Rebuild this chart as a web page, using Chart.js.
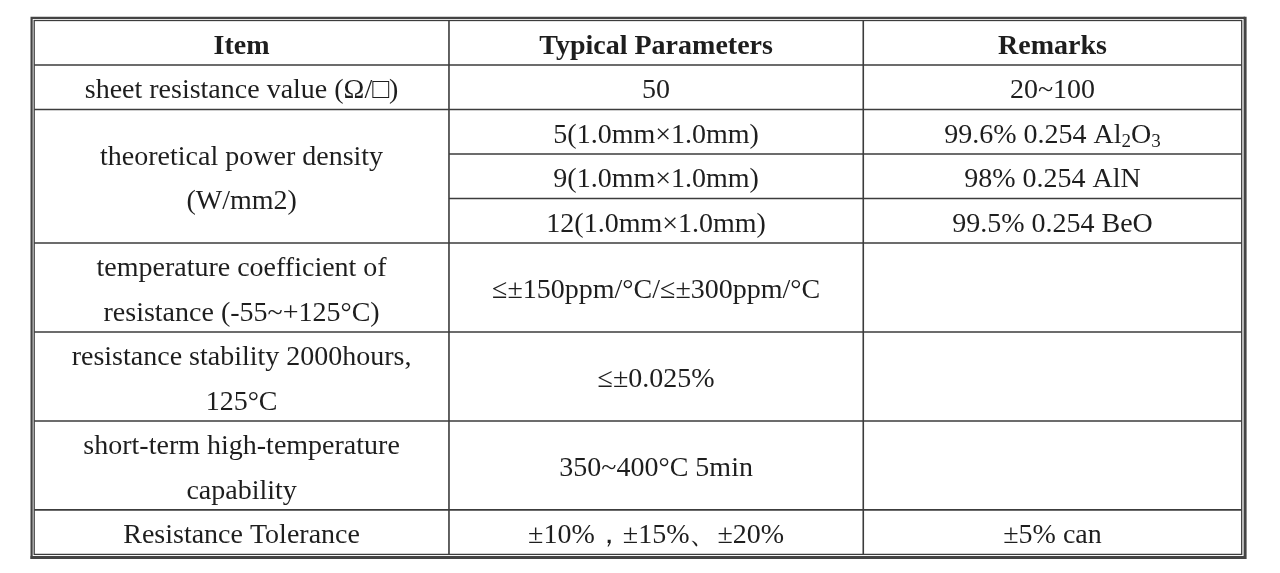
<!DOCTYPE html>
<html><head><meta charset="utf-8">
<script src="https://cdn.jsdelivr.net/npm/chart.js@4.4.1/dist/chart.umd.min.js"></script>
<style>html,body{margin:0;padding:0;background:#fff;}#wrap{position:relative;width:1280px;height:573px;background:#fff;}</style>
</head><body><div id="wrap"><canvas id="c"></canvas></div>
<script>
// ---- table content ----
const headers = ['Item', 'Typical Parameters', 'Remarks'];
const items = [
  'sheet resistance value (Ω/□)',
  'theoretical power density\n(W/mm2)',
  'temperature coefficient of\nresistance (-55~+125°C)',
  'resistance stability 2000hours,\n125°C',
  'short-term high-temperature\ncapability',
  'Resistance Tolerance'
];
const itemSpans = [1, 3, 2, 2, 2, 1];
const params = [
  '50',
  '5(1.0mm×1.0mm)',
  '9(1.0mm×1.0mm)',
  '12(1.0mm×1.0mm)',
  '≤±150ppm/°C/≤±300ppm/°C',
  '≤±0.025%',
  '350~400°C 5min',
  '±10%，±15%、±20%'
];
const remarks = [
  '20~100',
  '99.6% 0.254 Al₂O₃',
  '98% 0.254 AlN',
  '99.5% 0.254 BeO',
  '',
  '',
  '',
  '±5% can'
];
const paramSpans = [1, 1, 1, 1, 2, 2, 2, 1];

// ---- layout / style ----
const FONT = '"Liberation Serif","Times New Roman",serif';
const FONT_SIZE = 28;
const colEdges = [0, 34.35, 68.66, 100];
const totalUnits = 1 + itemSpans.reduce((a, b) => a + b, 0);
const TEXT_COLOR = '#1e1e1e';
const LINE_COLOR = '#3c3c3c';

const SUBS = '₀₁₂₃₄₅₆₇₈₉';
function segments(str) {
  const segs = [];
  for (const ch of str) {
    const sub = SUBS.indexOf(ch) >= 0;
    const c = sub ? String(SUBS.indexOf(ch)) : ch;
    if (segs.length && segs[segs.length - 1].sub === sub) segs[segs.length - 1].t += c;
    else segs.push({ t: c, sub });
  }
  return segs;
}
function drawRich(ctx, str, cx, baseY, bold) {
  const segs = segments(str);
  const w = (s) => { ctx.font = (bold ? 'bold ' : '') + (s.sub ? FONT_SIZE * 0.68 : FONT_SIZE) + 'px ' + FONT; return ctx.measureText(s.t).width; };
  let total = 0;
  segs.forEach(s => total += w(s));
  let xx = cx - total / 2;
  segs.forEach(s => {
    const ww = w(s);
    ctx.fillText(s.t, xx, baseY + (s.sub ? FONT_SIZE * 0.14 : 0));
    xx += ww;
  });
}

const tablePlugin = {
  id: 'tableDraw',
  afterDraw(chart) {
    const { ctx, scales: { x, y } } = chart;
    const X = v => x.getPixelForValue(v);
    const Y = v => y.getPixelForValue(v);
    const unitH = Math.abs(Y(1) - Y(0));
    ctx.save();
    // outer double border
    const L = X(0), R = X(100), T = Y(0), B = Y(totalUnits);
    ctx.strokeStyle = '#444';
    ctx.lineWidth = 2.2;
    ctx.beginPath();
    ctx.moveTo(L - 2.6, T - 2.7); ctx.lineTo(R + 3.4, T - 2.7);
    ctx.moveTo(L - 2.6, T - 3.8); ctx.lineTo(L - 2.6, B + 4.6);
    ctx.stroke();
    ctx.lineWidth = 3;
    ctx.beginPath();
    ctx.moveTo(R + 3.4, T - 3.8); ctx.lineTo(R + 3.4, B + 4.6);
    ctx.moveTo(L - 3.7, B + 3.2); ctx.lineTo(R + 4.9, B + 3.2);
    ctx.stroke();
    ctx.lineWidth = 1.3;
    ctx.strokeStyle = LINE_COLOR;
    ctx.strokeRect(L, T, R - L, B - T);

    // inner grid lines
    ctx.lineWidth = 1.6;
    ctx.beginPath();
    [1, 2].forEach(i => { ctx.moveTo(X(colEdges[i]), T); ctx.lineTo(X(colEdges[i]), B); });
    ctx.moveTo(L, Y(1)); ctx.lineTo(R, Y(1));
    let u = 1;
    itemSpans.forEach((s, i) => {
      u += s;
      if (i < itemSpans.length - 1) { ctx.moveTo(L, Y(u)); ctx.lineTo(X(colEdges[1]), Y(u)); }
    });
    u = 1;
    paramSpans.forEach((s, i) => {
      u += s;
      if (i < paramSpans.length - 1) { ctx.moveTo(X(colEdges[1]), Y(u)); ctx.lineTo(R, Y(u)); }
    });
    ctx.stroke();

    // text
    ctx.fillStyle = TEXT_COLOR;
    ctx.textAlign = 'left';
    ctx.textBaseline = 'alphabetic';
    const cellText = (str, col, u0, span, bold) => {
      if (!str) return;
      const lines = str.split('\n');
      const cx = (X(colEdges[col]) + X(colEdges[col + 1])) / 2;
      const cy = (Y(u0) + Y(u0 + span)) / 2;
      lines.forEach((ln, k) => {
        const ly = cy + (k - (lines.length - 1) / 2) * unitH;
        drawRich(ctx, ln, cx, ly + FONT_SIZE * 0.39, bold);
      });
    };
    headers.forEach((h, c) => cellText(h, c, 0, 1, true));
    u = 1;
    items.forEach((t, i) => { cellText(t, 0, u, itemSpans[i], false); u += itemSpans[i]; });
    u = 1;
    params.forEach((t, i) => {
      cellText(t, 1, u, paramSpans[i], false);
      cellText(remarks[i], 2, u, paramSpans[i], false);
      u += paramSpans[i];
    });
    ctx.restore();
  }
};

new Chart(document.getElementById('c'), {
  type: 'scatter',
  data: { datasets: [] },
  options: {
    responsive: true,
    maintainAspectRatio: false,
    animation: false,
    layout: { padding: { left: 34.2, right: 38.3, top: 20.5, bottom: 18.6 } },
    plugins: { legend: { display: false }, tooltip: { enabled: false } },
    scales: {
      x: { type: 'linear', display: false, min: 0, max: 100 },
      y: { type: 'linear', display: false, min: 0, max: totalUnits, reverse: true }
    }
  },
  plugins: [tablePlugin]
});
</script>
</body></html>
